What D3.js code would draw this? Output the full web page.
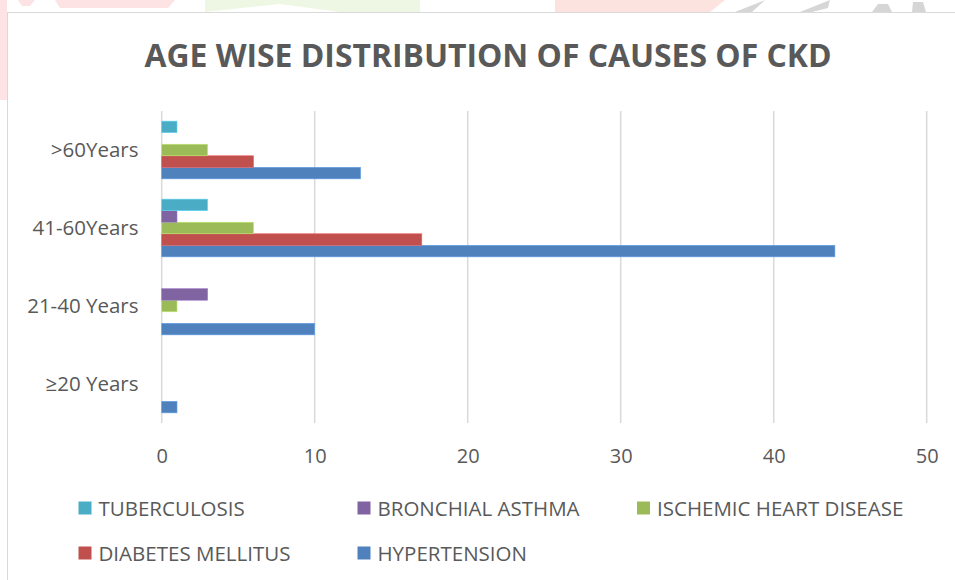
<!DOCTYPE html>
<html>
<head>
<meta charset="utf-8">
<script src="https://cdn.jsdelivr.net/npm/d3@7"></script>
<style>
  html, body { margin: 0; padding: 0; background: #ffffff; }
  svg { display: block; }
  text { font-family: "Open Sans", "Noto Sans", sans-serif; fill: #595959; }
</style>
</head>
<body>
<svg id="chart" width="955" height="580"></svg>
<script>
// Age groups, listed bottom to top as on the value axis
const categories = ["≥20 Years", "21-40 Years", "41-60Years", ">60Years"];

// Series, in stacking order from the bottom bar of each group upward
const seriesNames = ["HYPERTENSION", "DIABETES MELLITUS", "ISCHEMIC HEART DISEASE", "BRONCHIAL ASTHMA", "TUBERCULOSIS"];
const hypertension = [1, 10, 44, 13];
const diabetesMellitus = [0, 0, 17, 6];
const ischemicHeartDisease = [0, 1, 6, 3];
const bronchialAsthma = [0, 3, 1, 0];
const tuberculosis = [0, 0, 3, 1];
const seriesColors = ["#4F81BD", "#C0504D", "#9BBB59", "#8064A2", "#4BACC6"];

const xTicks = [0, 10, 20, 30, 40, 50];

// Legend order, reading left to right then top to bottom
const legendOrder = ["TUBERCULOSIS", "BRONCHIAL ASTHMA", "ISCHEMIC HEART DISEASE", "DIABETES MELLITUS", "HYPERTENSION"];

const seriesValues = [hypertension, diabetesMellitus, ischemicHeartDisease, bronchialAsthma, tuberculosis];

const svg = d3.select("#chart");

// Faint page artwork peeking out around the chart frame
const deco = svg.append("g");
const decoShapes = [
  { pts: [[55,0],[175,0],[168,8],[60,8]], fill: "#fde3e3" },
  { pts: [[0,0],[7,0],[7,100],[0,100]], fill: "#fde3e3" },
  { pts: [[18,0],[35,0],[30,6],[22,6]], fill: "#fde3e3" },
  { pts: [[205,0],[420,0],[420,12],[340,12],[280,4],[205,12]], fill: "#eef7e3" },
  { pts: [[555,0],[725,0],[710,12],[555,12]], fill: "#fde3e0" },
  { pts: [[735,12],[765,0],[752,12]], fill: "#d6d6d6" },
  { pts: [[800,12],[830,0],[828,8],[812,12]], fill: "#d6d6d6" },
  { pts: [[872,12],[878,4],[888,4],[892,12]], fill: "#d6d6d6" },
  { pts: [[912,12],[913,2],[923,2],[926,12]], fill: "#d6d6d6" }
];
deco.selectAll("polygon").data(decoShapes).join("polygon")
  .attr("points", d => d.pts.map(p => p.join(",")).join(" "))
  .attr("fill", d => d.fill);

// Chart frame
svg.append("rect")
  .attr("x", 7.5).attr("y", 12.5)
  .attr("width", 960).attr("height", 580)
  .attr("fill", "#ffffff").attr("stroke", "#d9d9d9").attr("stroke-width", 1);

// Title
svg.append("text")
  .attr("x", 488).attr("y", 67)
  .attr("text-anchor", "middle")
  .attr("font-size", 32)
  .attr("font-weight", 700)
  .attr("textLength", 687).attr("lengthAdjust", "spacingAndGlyphs")
  .text("AGE WISE DISTRIBUTION OF CAUSES OF CKD");

// Plot area
const plot = { left: 161.7, right: 926.7, top: 111, bottom: 423 };

const x = d3.scaleLinear().domain([0, 50]).range([plot.left, plot.right]);
const y = d3.scaleBand().domain(categories).range([plot.bottom, plot.top])
  .paddingInner(0.26).paddingOuter(0.13);
// Within a group, the first series sits at the bottom
const ySub = d3.scaleBand().domain(d3.range(seriesNames.length))
  .range([y.bandwidth(), 0]);

// Vertical gridlines (0 doubles as the category axis line)
svg.append("g").selectAll("line").data(xTicks).join("line")
  .attr("x1", d => x(d)).attr("x2", d => x(d))
  .attr("y1", plot.top).attr("y2", plot.bottom)
  .attr("stroke", "#d9d9d9").attr("stroke-width", 1.5);

// Bars
const groups = svg.append("g").selectAll("g").data(categories).join("g")
  .attr("transform", c => `translate(0,${y(c)})`);
groups.selectAll("rect")
  .data((c, ci) => seriesNames.map((s, si) => ({ si, v: seriesValues[si][ci] })))
  .join("rect")
  .filter(d => d.v > 0)
  .attr("x", x(0))
  .attr("y", d => ySub(d.si))
  .attr("width", d => x(d.v) - x(0))
  .attr("height", ySub.bandwidth())
  .attr("fill", d => seriesColors[d.si])
  .attr("stroke", d => d3.color(seriesColors[d.si]).brighter(0.6))
  .attr("stroke-width", 0.6);

// Value axis labels
const xAxis = d3.axisBottom(x).tickValues(xTicks).tickSize(0).tickPadding(0);
const xg = svg.append("g").attr("transform", `translate(0,${plot.bottom})`).call(xAxis);
xg.select(".domain").remove();
xg.selectAll("text")
  .attr("dy", null).attr("y", 39.5)
  .attr("font-size", 20);

// Category axis labels
const yAxis = d3.axisLeft(y).tickSize(0).tickPadding(0);
const yg = svg.append("g").attr("transform", `translate(138.5,0)`).call(yAxis);
yg.select(".domain").remove();
yg.selectAll("text")
  .attr("dy", "0.36em")
  .attr("font-size", 20.5);

// Axis groups carry D3's default font settings; let the page style apply instead
svg.selectAll("g[font-family]").attr("font-family", null).attr("font-size", null);
svg.selectAll("g.tick text").attr("fill", null);

// Legend
const legendCols = [78.5, 357.5, 637];
const legendRows = [516, 561];
const legend = svg.append("g").selectAll("g").data(legendOrder).join("g")
  .attr("transform", (d, i) => `translate(${legendCols[i % 3]},${legendRows[Math.floor(i / 3)]})`);
legend.append("rect")
  .attr("x", 0).attr("y", -14.5)
  .attr("width", 13).attr("height", 13)
  .attr("fill", d => seriesColors[seriesNames.indexOf(d)]);
legend.append("text")
  .attr("x", 20).attr("y", 0)
  .attr("font-size", 20.5)
  .text(d => d);
</script>
</body>
</html>
